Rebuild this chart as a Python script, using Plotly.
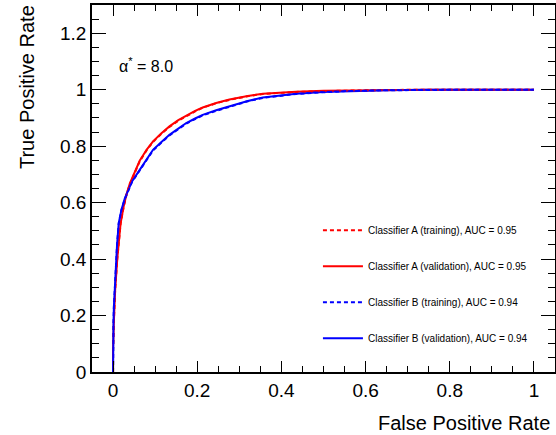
import plotly.graph_objects as go

# ROC curves: false positive rate vs true positive rate
fpr_a_val = [0, 0, 0.002, 0.005, 0.010, 0.014, 0.018, 0.025, 0.032, 0.040, 0.050, 0.0633,
             0.080, 0.095, 0.115, 0.134, 0.155, 0.174, 0.195, 0.213, 0.245, 0.2765, 0.320,
             0.356, 0.400, 0.435, 0.500, 0.553, 0.650, 0.750, 0.850, 1.0]
tpr_a_val = [0, 0.08, 0.18, 0.29, 0.40, 0.47, 0.527, 0.585, 0.630, 0.668, 0.705, 0.748,
             0.788, 0.817, 0.846, 0.870, 0.892, 0.909, 0.925, 0.937, 0.953, 0.965, 0.978,
             0.986, 0.990, 0.993, 0.996, 0.997, 0.999, 1.0, 1.0, 1.0]

fpr_a_trn = [0, 0, 0.002, 0.005, 0.010, 0.014, 0.018, 0.025, 0.032, 0.040, 0.050, 0.0633,
             0.080, 0.095, 0.115, 0.134, 0.155, 0.174, 0.195, 0.213, 0.245, 0.2765, 0.320,
             0.356, 0.400, 0.435, 0.500, 0.553, 0.650, 0.750, 0.850, 1.0]
tpr_a_trn = [0, 0.08, 0.18, 0.29, 0.40, 0.469, 0.526, 0.583, 0.628, 0.666, 0.703, 0.746,
             0.786, 0.815, 0.844, 0.868, 0.890, 0.907, 0.923, 0.936, 0.952, 0.964, 0.977,
             0.985, 0.989, 0.992, 0.995, 0.997, 0.999, 1.0, 1.0, 1.0]

fpr_b_val = [0, 0, 0.001, 0.002, 0.004, 0.0064, 0.0095, 0.0135, 0.020, 0.028, 0.036, 0.045,
             0.0633, 0.080, 0.095, 0.115, 0.134, 0.155, 0.174, 0.195, 0.213, 0.245, 0.2765,
             0.320, 0.356, 0.400, 0.435, 0.500, 0.553, 0.650, 0.750, 0.850, 1.0]
tpr_b_val = [0, 0.08, 0.17, 0.23, 0.30, 0.38, 0.45, 0.527, 0.575, 0.615, 0.645, 0.675,
             0.716, 0.755, 0.787, 0.815, 0.840, 0.862, 0.882, 0.898, 0.911, 0.927, 0.941,
             0.960, 0.972, 0.980, 0.986, 0.992, 0.995, 0.998, 1.0, 1.0, 1.0]

fpr_b_trn = [0, 0, 0.001, 0.002, 0.004, 0.0064, 0.0095, 0.0135, 0.020, 0.028, 0.036, 0.045,
             0.0633, 0.080, 0.095, 0.115, 0.134, 0.155, 0.174, 0.195, 0.213, 0.245, 0.2765,
             0.320, 0.356, 0.400, 0.435, 0.500, 0.553, 0.650, 0.750, 0.850, 1.0]
tpr_b_trn = [0, 0.08, 0.17, 0.23, 0.30, 0.38, 0.449, 0.526, 0.574, 0.613, 0.643, 0.673,
             0.714, 0.753, 0.785, 0.813, 0.838, 0.860, 0.880, 0.896, 0.909, 0.925, 0.940,
             0.959, 0.971, 0.979, 0.985, 0.991, 0.995, 0.998, 1.0, 1.0, 1.0]

series = [
    # name, x, y, color, dash, legend position
    ("Classifier A (validation), AUC = 0.95", fpr_a_val, tpr_a_val, "#ff0000", "solid", 2),
    ("Classifier B (validation), AUC = 0.94", fpr_b_val, tpr_b_val, "#0000ff", "solid", 4),
    ("Classifier A (training), AUC = 0.95", fpr_a_trn, tpr_a_trn, "#ff0000", "4px,3px", 1),
    ("Classifier B (training), AUC = 0.94", fpr_b_trn, tpr_b_trn, "#0000ff", "4px,3px", 3),
]

alpha_label = "α<sup>*</sup> = 8.0"
x_title = "False Positive Rate"
y_title = "True Positive Rate"

FONT = "Liberation Sans, Arial, Helvetica, sans-serif"

fig = go.Figure()
for name, xs, ys, color, dash, rank in series:
    fig.add_trace(go.Scatter(
        x=xs, y=ys, mode="lines", name=name,
        line=dict(color=color, width=2, dash=dash),
        legendgroup=f"g{rank}", legendrank=rank,
    ))

axis_common = dict(
    showgrid=False, zeroline=False,
    showline=True, linecolor="black", linewidth=1.5, mirror="allticks",
    ticks="inside", tickcolor="black", tickwidth=1,
    tickfont=dict(family=FONT, size=19, color="black"),
    dtick=0.2, tick0=0,
)

fig.update_xaxes(range=[-0.05, 1.05], ticklen=11,
                 minor=dict(dtick=0.05, ticklen=6, ticks="inside", tickcolor="black"),
                 **axis_common)
fig.update_yaxes(range=[0, 1.3], ticklen=14,
                 minor=dict(dtick=0.05, ticklen=7, ticks="inside", tickcolor="black"),
                 **axis_common)

fig.add_annotation(text=alpha_label, xref="x", yref="y", x=0.009, y=1.089,
                   xanchor="left", yanchor="middle", showarrow=False,
                   font=dict(family=FONT, size=16, color="black"))
fig.add_annotation(text=x_title, xref="paper", yref="paper", x=0.9935, y=-0.139,
                   xanchor="right", yanchor="middle", showarrow=False,
                   font=dict(family=FONT, size=20, color="black"))
fig.add_annotation(text=y_title, xref="paper", yref="paper", x=-0.1404, y=1.0054,
                   xanchor="center", yanchor="top", textangle=-90, showarrow=False,
                   font=dict(family=FONT, size=20, color="black"))

fig.update_layout(
    width=556, height=435,
    margin=dict(l=92, r=1, t=5, b=63, autoexpand=False),
    paper_bgcolor="white", plot_bgcolor="white",
    showlegend=True,
    legend=dict(x=0.488, y=0.426, xanchor="left", yanchor="top",
                bgcolor="rgba(0,0,0,0)", borderwidth=0,
                font=dict(family=FONT, size=10, color="black"),
                traceorder="grouped", tracegroupgap=17, itemwidth=40),
)

fig.write_html("out.html")
